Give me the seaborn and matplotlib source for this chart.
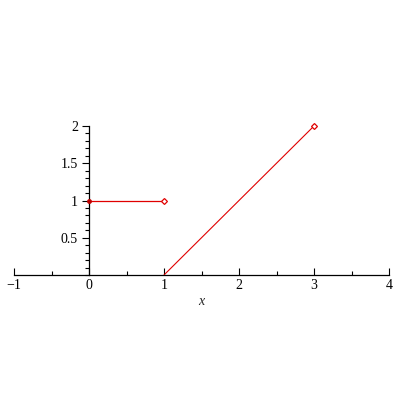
import matplotlib
matplotlib.use("Agg")
import matplotlib.pyplot as plt
import seaborn as sns
import pandas as pd
from matplotlib.ticker import MultipleLocator, FixedLocator

# piecewise segments
seg1_x = [0, 1]
seg1_y = [1, 1]
seg2_x = [1, 2, 3]
seg2_y = [0, 1, 2]

xticks = [-1, 0, 1, 2, 3, 4]
xlabels = ["\u22121", "0", "1", "2", "3", "4"]
yticks = [0.5, 1, 1.5, 2]
ylabels = ["0.5", "1", "1.5", "2"]

sns.set_style("white")
plt.rcParams['font.family'] = ['Liberation Serif', 'DejaVu Serif']

fig = plt.figure(figsize=(4, 4), dpi=100)
ax = fig.add_axes([0.035, 0.3125, 0.9375, 0.3725])

df1 = pd.DataFrame({"x": seg1_x, "y": seg1_y})
df2 = pd.DataFrame({"x": seg2_x, "y": seg2_y})
sns.lineplot(data=df1, x="x", y="y", ax=ax, color="#e00000", linewidth=0.9)
sns.lineplot(data=df2, x="x", y="y", ax=ax, color="#e00000", linewidth=0.8)

# endpoint markers
ax.plot(seg1_x[0], seg1_y[0], marker="o", ms=2.5, color="#c00000", clip_on=False, zorder=5)
ax.plot(seg1_x[-1], seg1_y[-1], marker="D", ms=3, mfc="white", mec="#e00000", mew=0.9,
        clip_on=False, zorder=5)
ax.plot(seg2_x[-1], seg2_y[-1], marker="D", ms=3, mfc="white", mec="#e00000", mew=0.9,
        clip_on=False, zorder=5)

ax.set_xlim(-1, 4)
ax.set_ylim(0, 2)
ax.spines["top"].set_visible(False)
ax.spines["right"].set_visible(False)
ax.spines["left"].set_position(("data", 0))
ax.spines["bottom"].set_position(("data", 0))
for s in ["left", "bottom"]:
    ax.spines[s].set_color("black")
    ax.spines[s].set_linewidth(0.9)

ax.xaxis.set_major_locator(FixedLocator(xticks))
ax.yaxis.set_major_locator(FixedLocator(yticks))
ax.xaxis.set_minor_locator(MultipleLocator(0.5))
ax.yaxis.set_minor_locator(MultipleLocator(0.1))
ax.tick_params(bottom=True, left=True, which="both")
ax.tick_params(axis="x", which="major", direction="in", length=5, width=0.8,
               labelsize=10, colors="black", pad=3)
ax.tick_params(axis="y", which="major", direction="out", length=5, width=0.8,
               labelsize=10, colors="black", pad=3)
ax.tick_params(axis="x", which="minor", direction="in", length=3, width=0.8, color="black")
ax.tick_params(axis="y", which="minor", direction="out", length=3, width=0.8, color="black")
ax.set_xticklabels(xlabels)
ax.set_yticklabels(ylabels)

ax.set_xlabel("x", fontstyle="italic", fontsize=10, labelpad=2)
ax.set_ylabel("")

fig.savefig("out.png", dpi=100)
